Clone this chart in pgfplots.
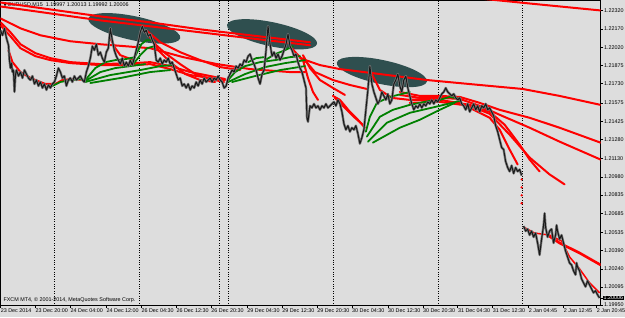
\documentclass[border=0pt]{standalone}
\usepackage{fontspec}
\setmainfont{Liberation Sans}
\newfontfamily\dejavu{DejaVu Sans}
\usepackage{pgfplots}
\usepackage{pgfplotstable}
\pgfplotsset{compat=1.18}
\definecolor{bg}{RGB}{221,221,221}
\definecolor{mtred}{RGB}{255,0,0}
\definecolor{mtgreen}{RGB}{0,128,0}
\definecolor{slate}{RGB}{47,79,79}
\definecolor{barcol}{RGB}{25,25,25}
\definecolor{wick}{RGB}{120,120,120}
\pgfplotsset{
  redma/.style={mtred, line width=2pt, line join=round, line cap=round},
  greenma/.style={mtgreen, line width=1.8pt, line join=round, line cap=round},
}
\pgfplotstableread{
x y
0 1.22160
2 1.22120
4 1.22176
6 1.22096
8 1.22040
9 1.21920
10 1.21856
11 1.21896
12 1.21824
13 1.21840
14 1.21664
15 1.21800
16 1.21840
18 1.21792
20 1.21824
22 1.21776
24 1.21840
26 1.21808
28 1.21776
30 1.21760
32 1.21792
34 1.21728
36 1.21760
38 1.21712
40 1.21744
42 1.21696
44 1.21728
46 1.21680
48 1.21720
50 1.21696
52 1.21728
54 1.21744
56 1.21792
58 1.21856
60 1.21824
62 1.21776
64 1.21792
66 1.21712
68 1.21760
70 1.21776
72 1.21744
74 1.21792
76 1.21760
78 1.21776
80 1.21792
82 1.21760
84 1.21744
86 1.21824
88 1.21872
90 1.21936
92 1.22032
94 1.22000
96 1.22048
98 1.21960
100 1.21984
102 1.21936
104 1.21904
106 1.21984
108 1.22016
110 1.22176
112 1.22080
114 1.22000
116 1.21952
118 1.21920
120 1.21888
122 1.21936
124 1.21872
126 1.21904
128 1.21872
130 1.21920
132 1.21880
134 1.21936
136 1.22000
138 1.22064
140 1.22144
142 1.22192
144 1.22144
146 1.22160
148 1.22112
150 1.22128
152 1.22080
154 1.22048
156 1.21920
158 1.21904
160 1.21936
162 1.21888
164 1.21920
166 1.21904
168 1.21936
170 1.21888
172 1.21904
174 1.21856
176 1.21808
178 1.21760
180 1.21776
182 1.21712
184 1.21728
186 1.21696
188 1.21728
190 1.21680
192 1.21712
194 1.21696
196 1.21744
198 1.21712
200 1.21760
202 1.21728
204 1.21776
206 1.21744
208 1.21760
210 1.21776
212 1.21744
214 1.21776
216 1.21760
218 1.21792
220 1.21760
222 1.21744
224 1.21696
226 1.21712
228 1.21776
230 1.21808
232 1.21840
234 1.21824
236 1.21872
238 1.21856
240 1.21888
242 1.21872
244 1.21920
246 1.21904
248 1.21952
250 1.21968
252 1.21920
254 1.21888
256 1.21840
258 1.21776
260 1.21728
262 1.21808
264 1.21840
266 1.22000
268 1.22192
270 1.22048
272 1.21952
274 1.21984
276 1.21936
278 1.21968
280 1.21920
282 1.21952
284 1.22000
286 1.22048
288 1.22128
290 1.22032
292 1.22000
294 1.21952
296 1.21968
298 1.21904
300 1.21856
302 1.21824
304 1.21760
306 1.21696
307 1.21456
308 1.21424
310 1.21552
312 1.21536
314 1.21568
316 1.21536
318 1.21552
320 1.21520
322 1.21552
324 1.21536
326 1.21568
328 1.21536
330 1.21552
332 1.21568
334 1.21584
336 1.21552
338 1.21600
340 1.21568
342 1.21504
344 1.21408
346 1.21360
348 1.21392
350 1.21344
352 1.21376
354 1.21360
356 1.21392
358 1.21328
360 1.21248
362 1.21296
364 1.21360
366 1.21520
368 1.21680
370 1.21872
372 1.21728
374 1.21664
376 1.21616
378 1.21568
380 1.21600
382 1.21664
384 1.21632
386 1.21600
388 1.21648
390 1.21568
392 1.21600
394 1.21728
396 1.21760
398 1.21808
400 1.21712
402 1.21664
404 1.21760
406 1.21792
408 1.21696
410 1.21632
412 1.21568
414 1.21520
416 1.21552
418 1.21536
420 1.21568
422 1.21536
424 1.21568
426 1.21552
428 1.21584
430 1.21568
432 1.21600
434 1.21568
436 1.21600
438 1.21584
440 1.21616
442 1.21648
444 1.21664
446 1.21696
448 1.21664
450 1.21648
452 1.21632
454 1.21648
456 1.21616
458 1.21600
460 1.21616
462 1.21568
464 1.21552
466 1.21520
468 1.21568
470 1.21504
472 1.21536
474 1.21568
476 1.21520
478 1.21552
480 1.21504
482 1.21552
484 1.21536
486 1.21568
488 1.21520
490 1.21536
492 1.21504
494 1.21472
496 1.21392
498 1.21344
500 1.21280
502 1.21216
504 1.21200
506 1.21104
508 1.21056
510 1.21024
512 1.21072
514 1.21008
516 1.21056
518 1.21024
520 1.21040
522 1.20992
}\priceA
\pgfplotstableread{
x y
524 1.20584
526 1.20544
528 1.20560
530 1.20512
532 1.20544
534 1.20496
536 1.20528
538 1.20448
540 1.20352
542 1.20480
544 1.20592
545 1.20688
546 1.20576
548 1.20496
550 1.20544
552 1.20560
554 1.20448
556 1.20512
557 1.20592
558 1.20544
560 1.20480
562 1.20512
564 1.20448
566 1.20384
568 1.20336
570 1.20288
572 1.20272
574 1.20224
576 1.20192
577 1.20288
578 1.20256
580 1.20224
582 1.20160
584 1.20128
586 1.20096
588 1.20144
590 1.20112
592 1.20080
594 1.20048
596 1.20064
598 1.20032
600 1.20006
}\priceB
\begin{document}
\begin{tikzpicture}
\fill[bg] (-0.5pt,-11.5pt) rectangle (624.5pt,305.5pt);
\begin{axis}[
  scale only axis, width=600pt, height=305pt,
  xmin=0, xmax=601, ymin=1.19945, ymax=1.22400,
  axis line style={black, line width=0.6pt},
  no markers,
  tick align=outside, major tick length=2.5pt,
  every tick/.style={black, line width=0.5pt},
  xtick pos=bottom, ytick pos=right, yticklabel pos=right,
  tick label style={font=\fontsize{5.4}{6}\selectfont},
  xtick={0,35,70,106,141,176,211,247,282,317,352,388,423,458,493,529,564,597},
  xticklabels={23 Dec 2014,23 Dec 20:00,24 Dec 04:00,24 Dec 12:00,26 Dec 04:30,26 Dec 12:30,26 Dec 20:30,29 Dec 04:30,29 Dec 12:30,29 Dec 20:30,30 Dec 04:30,30 Dec 12:30,30 Dec 20:30,31 Dec 04:30,31 Dec 12:30,2 Jan 04:45,2 Jan 12:45,2 Jan 20:45},
  xticklabel style={anchor=north west, inner sep=0.6pt, xshift=-0.5pt},
  ytick={1.22320,1.22170,1.22020,1.21875,1.21730,1.21575,1.21425,1.21280,1.21130,1.20980,1.20835,1.20685,1.20535,1.20390,1.20240,1.20095,1.19950},
  yticklabels={1.22320,1.22170,1.22020,1.21875,1.21730,1.21575,1.21425,1.21280,1.21130,1.20980,1.20835,1.20685,1.20535,1.20390,1.20240,1.20095,1.19950},
  yticklabel style={anchor=west, inner sep=0.8pt},
  extra x ticks={54,139,219,228,333,439,523},
  extra x tick labels={},
  extra x tick style={grid=major, major grid style={black, dotted, line width=0.6pt}, major tick length=0pt},
  extra y ticks={1.20006},
  extra y tick labels={1.20006},
  extra y tick style={yticklabel style={fill=black, text=white, inner sep=0.4pt}},
  clip=true,
]
% annotation ellipses
\fill[slate, rotate around={-12:(axis cs:134,1.22176)}] (axis cs:134,1.22176) ellipse [x radius=47pt, y radius=12pt];
\fill[slate, rotate around={-12:(axis cs:272,1.22128)}] (axis cs:272,1.22128) ellipse [x radius=46pt, y radius=12pt];
\fill[slate, rotate around={-12:(axis cs:382,1.21824)}] (axis cs:382,1.21824) ellipse [x radius=46pt, y radius=12pt];
\node[anchor=north west, font=\fontsize{5.4}{6}\selectfont, inner sep=0.5pt] at (rel axis cs:0.004,0.995) {{\dejavu\fontsize{4}{5}\selectfont ▼}\ EURUSD,M15\ \ 1.19997 1.20013 1.19992 1.20006};
\node[anchor=south west, font=\fontsize{5.4}{6}\selectfont, inner sep=0.5pt] at (rel axis cs:0.004,0.008) {FXCM MT4, © 2001-2014, MetaQuotes Software Corp.};

% ---- red moving averages ----
\addplot[redma] coordinates {(0,1.22384)(50,1.22328)(100,1.22272)(150,1.22224)(200,1.22168)(250,1.22120)(310,1.22064)};
\addplot[redma] coordinates {(0,1.22352)(50,1.22296)(100,1.22240)(150,1.22192)(200,1.22144)(250,1.22096)(310,1.22040)};
\addplot[redma] coordinates {(300,1.21936)(320,1.21880)(340,1.21848)(380,1.21808)(427,1.21760)(480,1.21720)(523,1.21688)(560,1.21632)(601,1.21560)};
\addplot[redma] coordinates {(480,1.22416)(540,1.22368)(601,1.22320)};
\addplot[redma] coordinates {(0,1.22256)(20,1.22176)(40,1.22120)(70,1.22072)(100,1.22048)(150,1.22016)(183,1.21944)(217,1.21888)(250,1.21848)(290,1.21824)(305,1.21824)};
\addplot[redma] coordinates {(0,1.22224)(10,1.22144)(20,1.22048)(35,1.21976)(50,1.21936)(70,1.21904)(100,1.21888)(133,1.21896)(150,1.21904)(170,1.21872)(190,1.21824)(210,1.21792)(225,1.21768)};
\addplot[redma] coordinates {(0,1.22200)(10,1.22112)(20,1.22016)(35,1.21952)(50,1.21920)(70,1.21896)(100,1.21880)(133,1.21880)(150,1.21888)(170,1.21848)(190,1.21800)(210,1.21776)(225,1.21760)};
\addplot[redma] coordinates {(8,1.22000)(12,1.21904)(20,1.21824)(30,1.21776)(45,1.21728)(55,1.21728)(62,1.21760)(72,1.21768)(85,1.21760)};
\addplot[redma] coordinates {(110,1.22096)(115,1.22016)(120,1.21960)(128,1.21936)(134,1.21920)};
\addplot[redma] coordinates {(146,1.22144)(156,1.22040)(165,1.21976)(180,1.21888)(195,1.21808)(210,1.21768)(224,1.21744)};
\addplot[redma] coordinates {(150,1.22112)(158,1.22000)(170,1.21904)(185,1.21808)(200,1.21760)(215,1.21744)};
\addplot[redma] coordinates {(146,1.22160)(160,1.22064)(180,1.21984)(200,1.21920)(220,1.21864)(240,1.21840)};
\addplot[redma] coordinates {(290,1.22032)(298,1.21960)(305,1.21904)};
\addplot[redma] coordinates {(303,1.21960)(310,1.21856)(320,1.21760)(333,1.21696)(345,1.21640)};
\addplot[redma] coordinates {(303,1.21936)(315,1.21824)(333,1.21760)(350,1.21720)(367,1.21688)};
\addplot[redma] coordinates {(303,1.21920)(308,1.21776)(313,1.21664)(318,1.21600)};
\addplot[redma] coordinates {(333,1.21632)(340,1.21600)(350,1.21504)(358,1.21440)(365,1.21376)};
\addplot[redma] coordinates {(335,1.21616)(345,1.21536)(355,1.21456)(363,1.21400)};
\addplot[redma] coordinates {(370,1.21840)(380,1.21680)(392,1.21616)(410,1.21600)(440,1.21616)};
\addplot[redma] coordinates {(400,1.21664)(420,1.21632)(440,1.21632)(460,1.21624)(480,1.21576)(500,1.21520)(530,1.21456)(560,1.21376)(601,1.21256)};
\addplot[redma] coordinates {(400,1.21640)(420,1.21616)(440,1.21616)(460,1.21608)(480,1.21552)(500,1.21480)(530,1.21376)(560,1.21264)(601,1.21120)};
\addplot[redma] coordinates {(410,1.21600)(440,1.21600)(470,1.21560)(490,1.21504)(505,1.21400)(520,1.21240)(530,1.21120)(540,1.21024)};
\addplot[redma] coordinates {(410,1.21576)(440,1.21584)(470,1.21552)(490,1.21488)(510,1.21320)(530,1.21136)(550,1.21000)(565,1.20920)};
\addplot[redma] coordinates {(470,1.21536)(490,1.21456)(500,1.21360)(510,1.21200)(518,1.21080)};
\addplot[mtred, only marks, mark=*, mark size=0.9pt] coordinates {(522,1.20960)(522,1.20896)(522,1.20832)(522,1.20768)};
\addplot[redma, line width=2.6pt] coordinates {(548,1.20512)(560,1.20448)(580,1.20368)(601,1.20272)};
\addplot[redma, line width=1.5pt] coordinates {(524,1.20576)(535,1.20528)(550,1.20512)(562,1.20464)(570,1.20336)(580,1.20240)(590,1.20128)(600,1.20048)};

% ---- green moving averages ----
\addplot[greenma] coordinates {(52,1.21712)(60,1.21744)(70,1.21760)(82,1.21768)};
\addplot[greenma] coordinates {(85,1.21760)(95,1.21856)(105,1.21904)(115,1.21920)(125,1.21928)(135,1.21944)};
\addplot[greenma] coordinates {(85,1.21752)(100,1.21824)(115,1.21856)(130,1.21872)(145,1.21888)};
\addplot[greenma] coordinates {(85,1.21744)(110,1.21800)(140,1.21840)(160,1.21872)(172,1.21880)};
\addplot[greenma] coordinates {(90,1.21736)(120,1.21776)(150,1.21824)(170,1.21840)};
\addplot[greenma] coordinates {(132,1.21904)(137,1.21984)(141,1.22048)(146,1.22080)(152,1.22080)};
\addplot[greenma] coordinates {(133,1.21888)(140,1.21960)(147,1.22016)(154,1.22032)};
\addplot[greenma] coordinates {(228,1.21760)(235,1.21824)(245,1.21872)(260,1.21904)(275,1.21920)(290,1.21944)(300,1.21952)};
\addplot[greenma] coordinates {(228,1.21744)(245,1.21808)(265,1.21864)(285,1.21896)(305,1.21920)};
\addplot[greenma] coordinates {(232,1.21744)(255,1.21792)(280,1.21840)(305,1.21872)};
\addplot[greenma] coordinates {(265,1.21920)(275,1.21968)(285,1.22000)(293,1.22032)};
\addplot[greenma] coordinates {(248,1.21904)(256,1.21936)(264,1.21944)};
\addplot[greenma] coordinates {(366,1.21344)(370,1.21464)(377,1.21576)(390,1.21624)(410,1.21664)};
\addplot[greenma] coordinates {(367,1.21304)(380,1.21464)(393,1.21520)(410,1.21560)(430,1.21592)};
\addplot[greenma] coordinates {(368,1.21264)(387,1.21416)(410,1.21496)(440,1.21552)(460,1.21592)};
\addplot[greenma] coordinates {(373,1.21256)(400,1.21376)(420,1.21440)(440,1.21520)(455,1.21576)};
\addplot[greenma] coordinates {(440,1.21600)(450,1.21624)(460,1.21608)};

% ---- price (M15 closes): grey body under dark line to mimic bars ----
\addplot[wick, line width=2.4pt, line join=round] table[x=x,y=y] {\priceA};
\addplot[wick, line width=2.4pt, line join=round] table[x=x,y=y] {\priceB};
\addplot[barcol, line width=1pt, line join=round] table[x=x,y=y] {\priceA};
\addplot[barcol, line width=1pt, line join=round] table[x=x,y=y] {\priceB};
\end{axis}
\pgfresetboundingbox
\useasboundingbox (-0.5pt,-11.5pt) rectangle (624.5pt,305.5pt);
\end{tikzpicture}
\end{document}
